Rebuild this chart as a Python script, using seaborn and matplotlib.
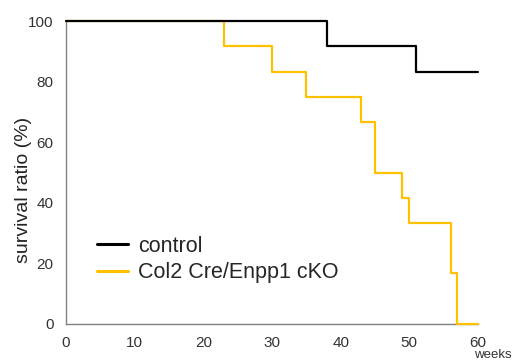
import pandas as pd
import seaborn as sns
from matplotlib import pyplot as plt

control_weeks = [0, 38, 51, 60]
control_survival = [100, 91.67, 83.33, 83.33]

cko_weeks = [0, 23, 30, 35, 43, 45, 49, 50, 56, 57, 60]
cko_survival = [100, 91.67, 83.33, 75, 66.67, 50, 41.67, 33.33, 16.67, 0, 0]

groups = ["control", "Col2 Cre/Enpp1 cKO"]
colors = ["#000000", "#FFC000"]


def build_frame():
    df_control = pd.DataFrame({"weeks": control_weeks, "survival": control_survival}).assign(group=groups[0])
    df_cko = pd.DataFrame({"weeks": cko_weeks, "survival": cko_survival}).assign(group=groups[1])
    return pd.concat([df_control, df_cko], ignore_index=True)


def main():
    sns.set_style("white")
    plt.rcParams['font.family'] = ['Liberation Sans', 'DejaVu Sans']
    df = build_frame()

    fig = plt.figure(figsize=(5.26, 3.61), dpi=100)
    ax = fig.add_axes([0.1255, 0.1025, 0.7832, 0.8393])
    sns.lineplot(data=df, x="weeks", y="survival", hue="group", hue_order=groups,
                 palette=colors, drawstyle="steps-post", linewidth=1.6, ax=ax,
                 estimator=None, sort=False, clip_on=False)
    # control on top of the cKO line, as in the original figure
    ax.lines[0].set_zorder(4)
    ax.lines[1].set_zorder(3)

    ax.set_xlim(0, 60)
    ax.set_ylim(0, 100)
    ax.set_xticks(range(0, 61, 10))
    ax.set_yticks(range(0, 101, 20))
    ax.tick_params(axis="both", length=0, labelsize=11, colors="#333333")
    ax.tick_params(axis="x", pad=9)
    ax.tick_params(axis="y", pad=9)
    ax.set_xlabel("")
    ax.set_ylabel("survival ratio (%)", fontsize=14, color="#222222")
    ax.yaxis.set_label_coords(-0.083, 0.444)
    for side in ["top", "right"]:
        ax.spines[side].set_visible(False)
    for side in ["left", "bottom"]:
        ax.spines[side].set_color("#808080")
        ax.spines[side].set_linewidth(1.0)

    ax.text(0.99, -0.103, "weeks", transform=ax.transAxes, fontsize=9.5, color="#333333",
            ha="left", va="center")

    ax.legend(title=None, frameon=False, fontsize=15.5, loc="center left",
              bbox_to_anchor=(0.054, 0.213), handlelength=1.45, handletextpad=0.45,
              labelspacing=0.25, borderaxespad=0)
    for line in ax.get_legend().get_lines():
        line.set_linewidth(2.2)

    fig.savefig("out.png", dpi=100)


if __name__ == "__main__":
    main()
